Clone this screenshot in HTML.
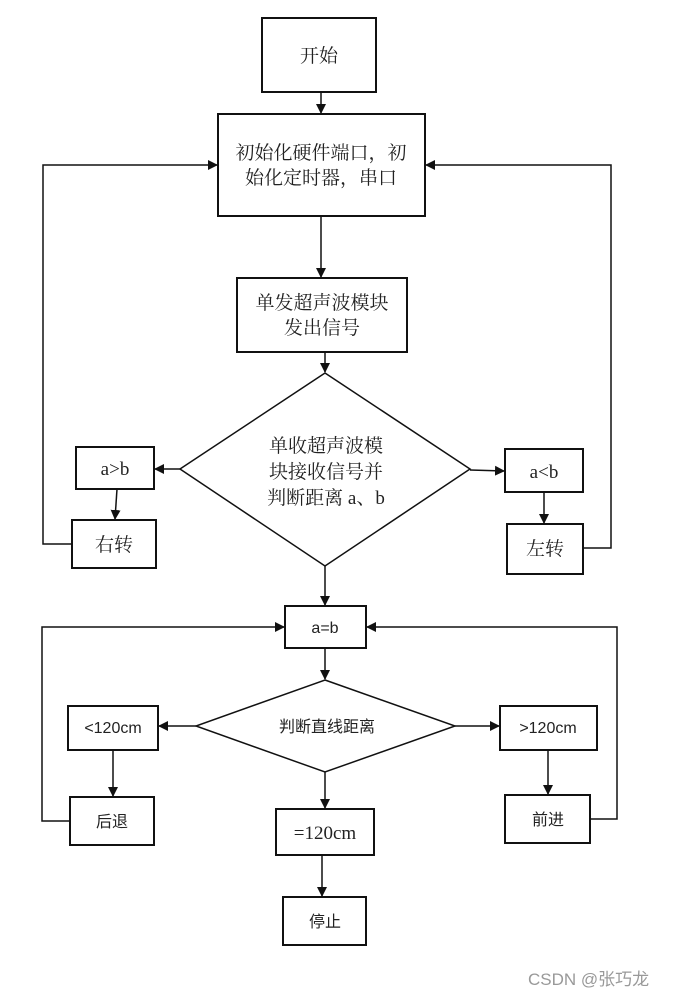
<!DOCTYPE html>
<html><head><meta charset="utf-8"><style>
html,body{margin:0;padding:0;background:#fff;}
svg{display:block}
.s{font-family:"Liberation Serif","Noto Serif CJK SC",serif;font-size:19px;fill:#222}
.n{font-family:"Liberation Sans","Noto Sans CJK SC",sans-serif;font-size:16px;fill:#222}
</style></head><body>
<svg width="673" height="997" viewBox="0 0 673 997" xmlns="http://www.w3.org/2000/svg">
<defs><marker id="a" markerWidth="10" markerHeight="10" refX="9" refY="5" orient="auto" markerUnits="userSpaceOnUse"><path d="M0,0 L10,5 L0,10 z" fill="#111"/></marker></defs>
<g fill="none" stroke="#111" stroke-width="2">
<rect x="262" y="18" width="114" height="74"/>
<rect x="218" y="114" width="207" height="102"/>
<rect x="237" y="278" width="170" height="74"/>
<polygon points="325,373 470,469 325,566 180,469" stroke-width="1.5"/>
<rect x="76" y="447" width="78" height="42"/>
<rect x="72" y="520" width="84" height="48"/>
<rect x="505" y="449" width="78" height="43"/>
<rect x="507" y="524" width="76" height="50"/>
<rect x="285" y="606" width="81" height="42"/>
<polygon points="325,680 455,726 325,772 196,726" stroke-width="1.5"/>
<rect x="68" y="706" width="90" height="44"/>
<rect x="70" y="797" width="84" height="48"/>
<rect x="500" y="706" width="97" height="44"/>
<rect x="505" y="795" width="85" height="48"/>
<rect x="276" y="809" width="98" height="46"/>
<rect x="283" y="897" width="83" height="48"/>
</g>
<g fill="none" stroke="#111" stroke-width="1.5" marker-end="url(#a)">
<line x1="321" y1="92" x2="321" y2="113"/>
<line x1="321" y1="216" x2="321" y2="277"/>
<line x1="325" y1="352" x2="325" y2="372"/>
<line x1="180" y1="469" x2="155" y2="469"/>
<line x1="117" y1="489" x2="115" y2="519"/>
<polyline points="72,544 43,544 43,165 217,165"/>
<line x1="470" y1="470" x2="504" y2="471"/>
<line x1="544" y1="492" x2="544" y2="523"/>
<polyline points="583,548 611,548 611,165 426,165"/>
<line x1="325" y1="566" x2="325" y2="605"/>
<line x1="325" y1="648" x2="325" y2="679"/>
<line x1="196" y1="726" x2="159" y2="726"/>
<line x1="455" y1="726" x2="499" y2="726"/>
<line x1="113" y1="750" x2="113" y2="796"/>
<line x1="548" y1="750" x2="548" y2="794"/>
<polyline points="70,821 42,821 42,627 284,627"/>
<polyline points="590,819 617,819 617,627 367,627"/>
<line x1="325" y1="772" x2="325" y2="808"/>
<line x1="322" y1="855" x2="322" y2="896"/>
</g>
<g text-anchor="middle">
<text class="s" x="319" y="62">开始</text>
<text class="s" x="321" y="159">初始化硬件端口，初</text>
<text class="s" x="321" y="184">始化定时器，串口</text>
<text class="s" x="322" y="309">单发超声波模块</text>
<text class="s" x="322" y="334">发出信号</text>
<text class="s" x="326" y="452">单收超声波模</text>
<text class="s" x="326" y="478">块接收信号并</text>
<text class="s" x="326" y="504">判断距离 a、b</text>
<text class="s" x="115" y="475">a&gt;b</text>
<text class="s" x="114" y="551">右转</text>
<text class="s" x="544" y="478">a&lt;b</text>
<text class="s" x="545" y="555">左转</text>
<text class="n" x="325" y="633">a=b</text>
<text class="n" x="327" y="732">判断直线距离</text>
<text class="n" x="113" y="733">&lt;120cm</text>
<text class="n" x="112" y="827">后退</text>
<text class="n" x="548" y="733">&gt;120cm</text>
<text class="n" x="548" y="825">前进</text>
<text class="s" x="325" y="839">=120cm</text>
<text class="n" x="325" y="927">停止</text>
</g>
<text x="528" y="985" style="font-family:'Liberation Sans','Noto Sans CJK SC',sans-serif;font-size:17px;fill:#999">CSDN @张巧龙</text>
</svg>
</body></html>
